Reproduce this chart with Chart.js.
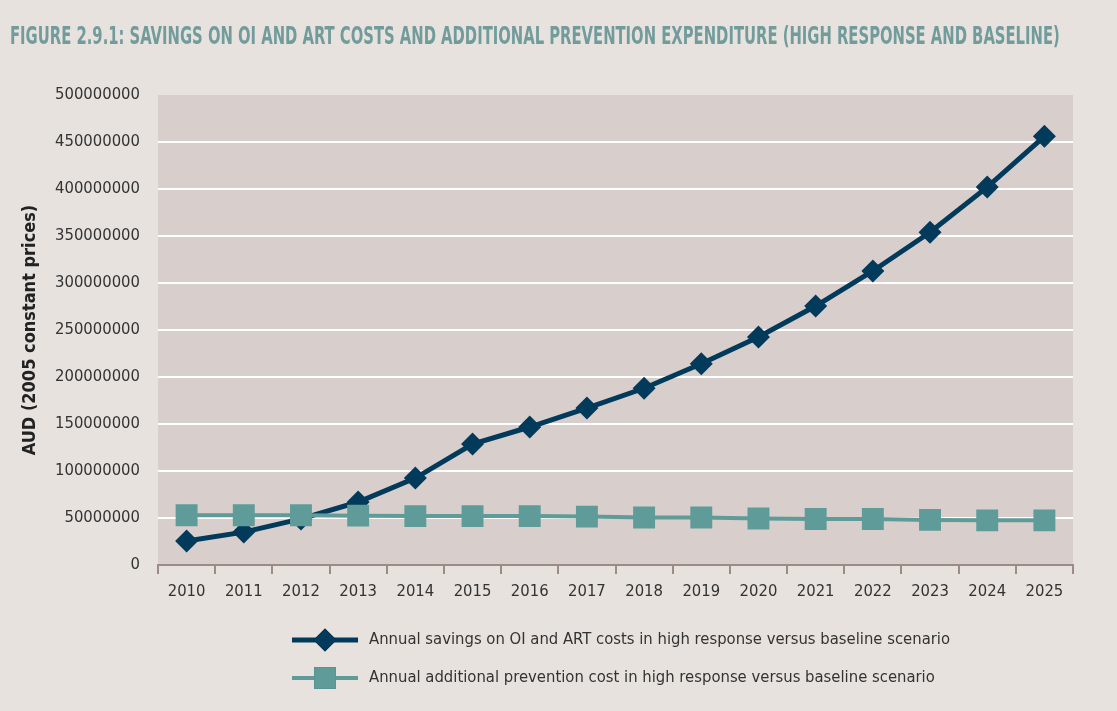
<!DOCTYPE html>
<html>
<head>
<meta charset="utf-8">
<script src="https://cdn.jsdelivr.net/npm/chart.js@4"></script>
<style>
  body { margin: 0; background: #e7e2de; }
  #wrap { position: relative; width: 1117px; height: 711px; }
  #title {
    position: absolute; left: 10px; top: 21px; white-space: nowrap;
    font-family: "Liberation Sans Narrow", "DejaVu Sans Condensed", sans-serif;
    font-weight: bold; font-size: 25px; color: #719c9b;
    transform-origin: left top;
  }
</style>
</head>
<body>
<div id="wrap">
  <div id="title">FIGURE 2.9.1: SAVINGS ON OI AND ART COSTS AND ADDITIONAL PREVENTION EXPENDITURE (HIGH RESPONSE AND BASELINE)</div>
  <canvas id="myChart" width="1117" height="711"></canvas>
</div>
<script>
const years = ["2010", "2011", "2012", "2013", "2014", "2015", "2016", "2017",
               "2018", "2019", "2020", "2021", "2022", "2023", "2024", "2025"];
const savings = [25500000, 35000000, 49000000, 67000000, 92500000, 128700000, 146800000, 167000000,
                 188000000, 214000000, 242500000, 275500000, 312800000, 354000000, 402000000, 456000000];
const prevention = [53000000, 53000000, 53000000, 52500000, 52000000, 52000000, 52000000, 51500000,
                    50500000, 50500000, 49500000, 49000000, 49000000, 48000000, 47500000, 47500000];
const labelSavings = "Annual savings on OI and ART costs in high response versus baseline scenario";
const labelPrevention = "Annual additional prevention cost in high response versus baseline scenario";

const FONT = '"Liberation Sans Narrow", "DejaVu Sans Condensed", sans-serif';
const navy = "#023a5b";
const teal = "#5e9b99";

// squeeze title to the width it has in the figure
let t = document.getElementById("title");
t.style.transform = `scaleX(${1050 / t.scrollWidth})`;

// plot area background
const plotBg = {
    id: "plotBg",
    beforeDraw(chart) {
        const a = chart.chartArea, ctx = chart.ctx;
        ctx.save();
        ctx.fillStyle = "#d8cfcc";
        ctx.fillRect(a.left, a.top, a.right - a.left, a.bottom - a.top);
        ctx.restore();
    }
};

// legend with line + marker drawn under the chart
const lineLegend = {
    id: "lineLegend",
    afterDraw(chart) {
        const ctx = chart.ctx;
        const items = [
            { ds: chart.data.datasets[1], y: 640 },
            { ds: chart.data.datasets[0], y: 678 }
        ];
        items.forEach(it => {
            const ds = it.ds;
            ctx.save();
            ctx.strokeStyle = ds.borderColor;
            ctx.lineWidth = ds.borderWidth;
            ctx.beginPath();
            ctx.moveTo(292, it.y);
            ctx.lineTo(358, it.y);
            ctx.stroke();
            Chart.helpers.drawPoint(ctx, {
                pointStyle: ds.pointStyle,
                radius: ds.pointRadius,
                borderWidth: 0,
                rotation: 0
            }, 325, it.y);
            ctx.fillStyle = ds.pointBackgroundColor;
            ctx.fill();
            ctx.fillStyle = "#333333";
            ctx.font = "16.5px " + FONT;
            ctx.textBaseline = "middle";
            ctx.fillText(ds.label, 369, it.y);
            ctx.restore();
        });
    }
};

const ctx = document.getElementById("myChart").getContext("2d");
const myChart = new Chart(ctx, {
    type: "line",
    data: {
        labels: years,
        datasets: [{
                label: labelPrevention,
                data: prevention,
                borderColor: teal,
                borderWidth: 4,
                pointStyle: "rect",
                pointRadius: 15.5,
                pointBackgroundColor: teal,
                pointBorderWidth: 0,
                order: 0
            }, {
                label: labelSavings,
                data: savings,
                borderColor: navy,
                borderWidth: 5,
                pointStyle: "rectRot",
                pointRadius: 11.5,
                pointBackgroundColor: navy,
                pointBorderWidth: 0,
                order: 1
            }]
    },
    options: {
        responsive: false,
        animation: false,
        layout: { padding: { top: 95, right: 44, bottom: 86, left: 0 } },
        plugins: {
            legend: { display: false },
            tooltip: { enabled: false }
        },
        scales: {
            x: {
                offset: true,
                grid: {
                    offset: true,
                    drawOnChartArea: false,
                    drawTicks: true,
                    tickLength: 9,
                    color: "#9c8c87",
                    lineWidth: 2
                },
                border: { display: true, color: "#9c8c87", width: 2 },
                ticks: {
                    color: "#333333",
                    font: { family: FONT, size: 16.5 },
                    padding: 8,
                    maxRotation: 0
                },
                afterFit(scale) { scale.height = 60; }
            },
            y: {
                min: 0,
                max: 500000000,
                grid: {
                    color: c => (c.tick.value === 0 || c.tick.value === 500000000) ? "rgba(0,0,0,0)" : "#ffffff",
                    lineWidth: 2,
                    drawTicks: false
                },
                border: { display: false },
                ticks: {
                    stepSize: 50000000,
                    color: "#333333",
                    font: { family: FONT, size: 16.5 },
                    padding: 18,
                    callback: v => String(v)
                },
                title: {
                    display: true,
                    text: "AUD (2005 constant prices)",
                    color: "#222222",
                    font: { family: FONT, size: 18, weight: "bold" },
                    padding: { top: 20, bottom: 0 }
                },
                afterFit(scale) { scale.width = 158; }
            }
        }
    },
    plugins: [plotBg, lineLegend]
});
</script>
</body>
</html>
